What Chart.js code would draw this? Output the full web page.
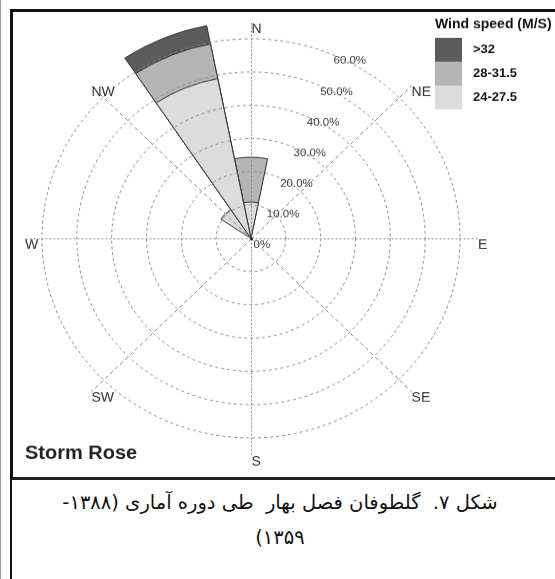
<!DOCTYPE html>
<html>
<head>
<meta charset="utf-8">
<script src="https://cdn.jsdelivr.net/npm/chart.js@4.4.1/dist/chart.umd.min.js"></script>
<style>
  html, body { margin: 0; padding: 0; background: #fff; }
  body { width: 555px; height: 579px; position: relative; overflow: hidden; font-family: "Liberation Sans", Arial, sans-serif; }
  #edge { position: absolute; left: 0; top: 0; width: 1px; height: 579px; background: #9a9a9a; }
  #panel { position: absolute; left: 10px; top: 9px; width: 560px; height: 465px; border-left: 3px solid #111; border-top: 3px solid #111; border-bottom: 3px solid #222; }
  #wrap { position: absolute; left: 13px; top: 12px; width: 542px; height: 487px; transform: scaleY(0.955); transform-origin: 0 0; }
  #caption { position: absolute; left: 10px; top: 480px; width: 538px; height: 99px; border-left: 2px solid #111;
             direction: rtl; text-align: center; font-family: "DejaVu Sans", sans-serif; font-size: 19.5px; line-height: 35px;
             padding-top: 5px; color: #111; box-sizing: border-box; }
</style>
</head>
<body>
<div id="edge"></div>
<div id="panel"></div>
<div id="wrap"><canvas id="rose" width="542" height="487"></canvas></div>
<div id="caption">شکل ۷.&nbsp; گلطوفان فصل بهار&nbsp; طی دوره آماری (۱۳۸۸-<br>۱۳۵۹)</div>

<script>
// 16 sectors, clockwise from north
var directions = ['N', 'NNE', 'NE', 'ENE', 'E', 'ESE', 'SE', 'SSE', 'S', 'SSW', 'SW', 'WSW', 'W', 'WNW', 'NW', 'NNW'];

// frequency (%) per wind speed class
var speed24to27 = [10.9, 0, 0, 0, 0, 0, 0, 0, 0, 0, 0, 0, 0, 0, 10.4, 49.0];
var speed28to31 = [13.5, 0, 0, 0, 0, 0, 0, 0, 0, 0, 0, 0, 0, 0, 0, 10.6];
var speedOver32 = [0, 0, 0, 0, 0, 0, 0, 0, 0, 0, 0, 0, 0, 0, 0, 5.6];

var classNames = ['24-27.5', '28-31.5', '>32'];
var classColors = ['#dcdcdc', '#b5b5b5', '#5b5b5b'];

var ringValues = [0, 10, 20, 30, 40, 50, 60];
var ringLabels = ['0%', '10.0%', '20.0%', '30.0%', '40.0%', '50.0%', '60.0%'];
var compassLabels = ['N', 'NE', 'E', 'SE', 'S', 'SW', 'W', 'NW'];
var spokeValue = 65;

// stacked rose: each class is drawn from the centre out to its cumulative total
var layers = [speed24to27, speed28to31, speedOver32];
var cumulative = [];
var running = directions.map(function () { return 0; });
for (var k = 0; k < layers.length; k++) {
  running = running.map(function (v, i) { return +(v + layers[k][i]).toFixed(2); });
  cumulative.push(running.slice());
}

var datasets = cumulative.map(function (vals, k) {
  return {
    label: classNames[k],
    data: vals,
    backgroundColor: classColors[k],
    borderColor: '#333',
    borderWidth: function (c) { return layers[k][c.dataIndex] > 0 ? 1 : 0; },
    clip: false
  };
});

var roseOverlay = {
  id: 'roseOverlay',
  afterDraw: function (chart) {
    var ctx = chart.ctx;
    var r = chart.scales.r;
    var cx = r.xCenter + 0.5, cy = r.yCenter + 0.5;
    function toXY(value, deg) {
      var d = r.getDistanceFromCenterForValue(value);
      var a = deg * Math.PI / 180;
      return { x: cx + d * Math.sin(a), y: cy - d * Math.cos(a) };
    }
    ctx.save();

    // compass spokes and names
    ctx.strokeStyle = '#888';
    ctx.lineWidth = 1;
    ctx.font = '14px "Liberation Sans"';
    ctx.textAlign = 'left';
    ctx.textBaseline = 'top';
    compassLabels.forEach(function (lab, i) {
      var end = toXY(spokeValue, i * 45);
      ctx.setLineDash(i % 2 === 0 ? [2, 2] : [4, 3]);
      ctx.beginPath();
      ctx.moveTo(cx, cy);
      ctx.lineTo(end.x, end.y);
      ctx.stroke();
      ctx.fillStyle = '#333';
      ctx.fillText(lab, end.x, end.y);
    });
    ctx.setLineDash([]);

    // centre dot where the wedges meet
    ctx.fillStyle = '#222';
    ctx.beginPath();
    ctx.arc(cx, cy, 1.5, 0, Math.PI * 2);
    ctx.fill();

    // ring labels along the NNE line
    ctx.font = '11.5px "Liberation Sans"';
    ctx.fillStyle = '#3a3a3a';
    ringValues.forEach(function (v, i) {
      var p = toXY(v, 22.5);
      ctx.fillText(ringLabels[i], p.x + 2, p.y + 1);
    });

    // legend, strongest class on top
    var lx = 422, ly = 27, bw = 27, bh = 25;
    ctx.fillStyle = '#111';
    ctx.font = 'bold 14px "Liberation Sans"';
    ctx.textBaseline = 'middle';
    ctx.fillText('Wind speed (M/S)', lx, 13);
    ctx.font = 'bold 13px "Liberation Sans"';
    for (var j = 0; j < classNames.length; j++) {
      var k = classNames.length - 1 - j;
      ctx.fillStyle = classColors[k];
      ctx.fillRect(lx, ly + j * bh, bw, bh);
      ctx.fillStyle = '#111';
      ctx.fillText(classNames[k], lx + 38, ly + j * bh + bh / 2);
    }
    ctx.restore();
  }
};

var chart = new Chart(document.getElementById('rose').getContext('2d'), {
  type: 'polarArea',
  data: { labels: directions, datasets: datasets },
  options: {
    responsive: false,
    animation: false,
    events: [],
    layout: { padding: { left: 12, right: 78, top: 28, bottom: 0 } },
    scales: {
      r: {
        min: 0,
        max: 60,
        startAngle: -11.25,
        ticks: { display: false, stepSize: 10 },
        grid: { circular: true, color: '#888', lineWidth: 1, z: 1 },
        border: { dash: [3, 3] },
        angleLines: { display: false },
        pointLabels: { display: false }
      }
    },
    plugins: {
      legend: { display: false },
      tooltip: { enabled: false },
      title: {
        display: true,
        text: 'Storm Rose',
        position: 'bottom',
        align: 'start',
        color: '#222',
        font: { family: 'Liberation Sans', size: 20, weight: 'bold' },
        padding: { top: 4, bottom: 13 }
      }
    }
  },
  plugins: [roseOverlay]
});
</script>
</body>
</html>
